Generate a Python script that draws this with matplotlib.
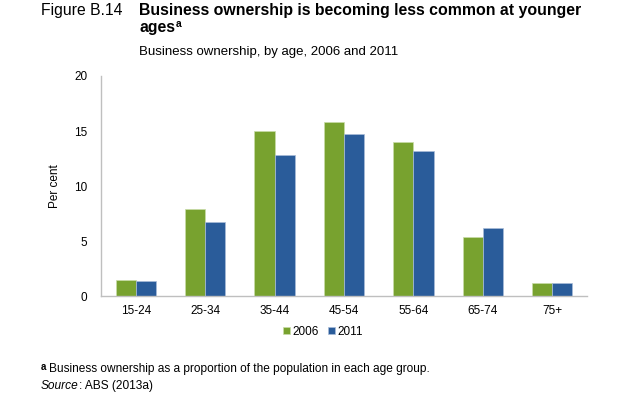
import numpy as np
import matplotlib
matplotlib.use("Agg")
import matplotlib.pyplot as plt

plt.rcParams['font.family'] = ['Liberation Sans', 'DejaVu Sans']

# Data
ages = ["15-24", "25-34", "35-44", "45-54", "55-64", "65-74", "75+"]
own_2006 = [1.5, 7.9, 15.0, 15.8, 14.0, 5.4, 1.2]
own_2011 = [1.4, 6.7, 12.8, 14.7, 13.2, 6.2, 1.2]
series = ["2006", "2011"]
colors = ["#78A22F", "#2A5C9A"]

W, H = 632, 396
fig = plt.figure(figsize=(W / 100, H / 100), dpi=100)
ax = fig.add_axes([101 / W, 1 - 296.3 / H, 486 / W, 220.3 / H])

x = np.arange(len(ages))
w = 0.29
ax.bar(x - w/2, own_2006, w, color=colors[0], edgecolor="#C8DCA8",
       linewidth=0.5, label=series[0])
ax.bar(x + w/2, own_2011, w, color=colors[1], edgecolor="#A9BCD8",
       linewidth=0.5, label=series[1])

ax.set_xlim(-0.5, len(ages) - 0.5)
ax.set_ylim(0, 20)
ax.set_yticks([0, 5, 10, 15, 20])
ax.set_xticks(x)
ax.set_xticklabels(ages)
ax.tick_params(axis="both", length=0, labelsize=8.5, pad=6)
ax.tick_params(axis="y", pad=10)
for s in ["top", "right"]:
    ax.spines[s].set_visible(False)
for s in ["left", "bottom"]:
    ax.spines[s].set_color("#BFBFBF")
    ax.spines[s].set_linewidth(1)
ax.set_ylabel("Per cent", fontsize=8.5, labelpad=9)

ax.legend(loc="center", bbox_to_anchor=(323 / W, 1 - 332 / H),
          bbox_transform=fig.transFigure, ncol=2, frameon=False,
          fontsize=8.5, handlelength=0.55, handleheight=0.55,
          handletextpad=0.2, columnspacing=0.8)


def px(xp, yp):
    return xp / W, 1 - yp / H


fig.text(*px(41, 15), "Figure B.14", fontsize=11.3, va="baseline")
fig.text(*px(139, 15),
         "Business ownership is becoming less common at younger",
         fontsize=11.4, fontweight="bold", va="baseline")
t_ages = fig.text(*px(139, 32), "ages", fontsize=11.4, fontweight="bold",
                  va="baseline")
fig.text(*px(139, 55), "Business ownership, by age, 2006 and 2011",
         fontsize=9.5, va="baseline")

fig.canvas.draw()
r = fig.canvas.get_renderer()
bb = t_ages.get_window_extent(r)
fig.text(bb.x1 / W + 0.5 / W, 1 - 27 / H, "a", fontsize=7.5,
         fontweight="bold", va="baseline")

fig.text(*px(40.5, 370), "a", fontsize=7, fontweight="bold", va="baseline")
fig.text(*px(49, 372),
         "Business ownership as a proportion of the population in each age group.",
         fontsize=8.55, va="baseline")
t_src = fig.text(*px(41, 389), "Source", fontsize=8.55, style="italic",
                 va="baseline")
bb = t_src.get_window_extent(r)
fig.text(bb.x1 / W, 1 - 389 / H, ": ABS (2013a)", fontsize=8.55,
         va="baseline")

fig.savefig("out.png", dpi=100)
